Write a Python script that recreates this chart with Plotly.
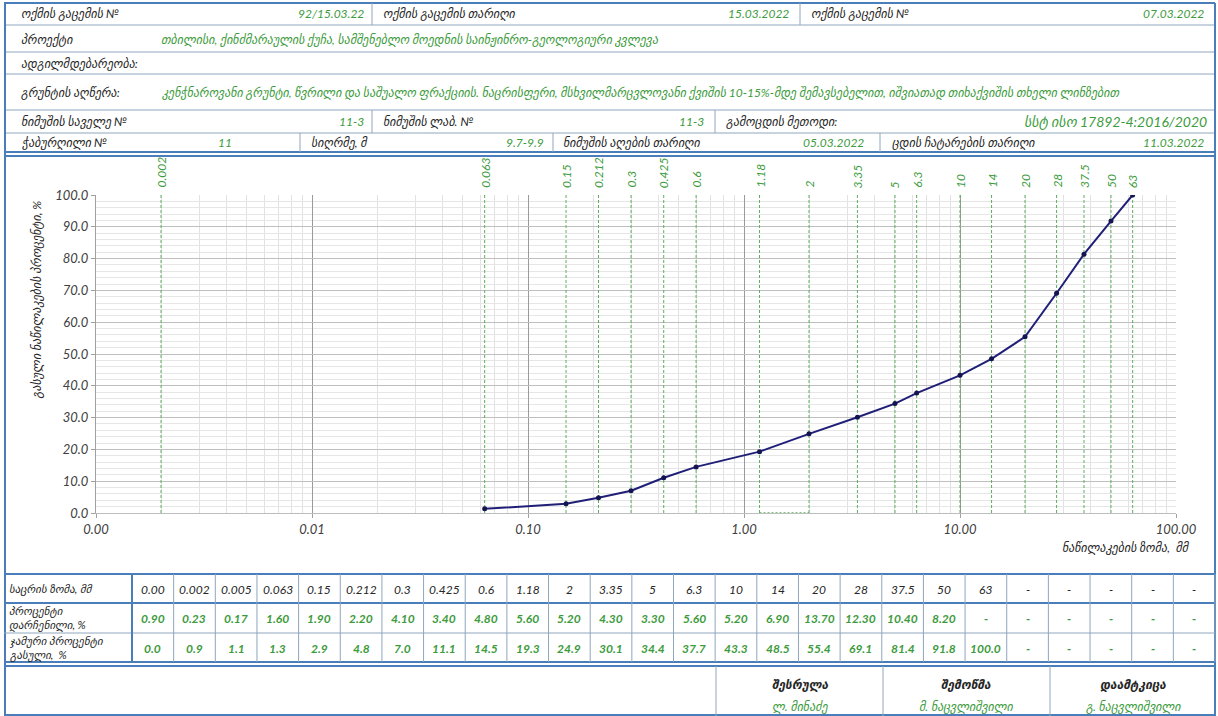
import math
import plotly.graph_objects as go

W, H = 1218, 716

# ---- data ----
sieve_labels = ["0.00", "0.002", "0.005", "0.063", "0.15", "0.212", "0.3", "0.425", "0.6", "1.18",
                "2", "3.35", "5", "6.3", "10", "14", "20", "28", "37.5", "50", "63"]
retained_pct = [0.90, 0.23, 0.17, 1.60, 1.90, 2.20, 4.10, 3.40, 4.80, 5.60,
                5.20, 4.30, 3.30, 5.60, 5.20, 6.90, 13.70, 12.30, 10.40, 8.20]
passing_pct = [0.0, 0.9, 1.1, 1.3, 2.9, 4.8, 7.0, 11.1, 14.5, 19.3,
               24.9, 30.1, 34.4, 37.7, 43.3, 48.5, 55.4, 69.1, 81.4, 91.8, 100.0]
guide_labels = ["0.002", "0.063", "0.15", "0.212", "0.3", "0.425", "0.6", "1.18", "2", "3.35",
                "5", "6.3", "10", "14", "20", "28", "37.5", "50", "63"]
n_cols = 26

sizes = [float(s) for s in sieve_labels]
curve_x = sizes[3:]
curve_y = passing_pct[3:]
guides = [float(s) for s in guide_labels]

GREEN = "#3C9B3C"
BLUE = "#4A7EBB"
CELL = "#8FA6BD"
TXT = "#262626"
FONT = "Lato, 'DejaVu Sans', sans-serif"


def X(px):
    return px / W


def Y(py):
    return 1 - py / H


shapes = []
annots = []


def hline(y, x0=4, x1=1215, color=CELL, width=1):
    shapes.append(dict(type="line", xref="paper", yref="paper", x0=X(x0), x1=X(x1),
                       y0=Y(y), y1=Y(y), line=dict(color=color, width=width)))


def vline(x, y0, y1, color=CELL, width=1):
    shapes.append(dict(type="line", xref="paper", yref="paper", x0=X(x), x1=X(x),
                       y0=Y(y0), y1=Y(y1), line=dict(color=color, width=width)))


def text(s, x, y, anchor="left", color=TXT, size=12, weight="normal"):
    annots.append(dict(text=s, x=X(x), y=Y(y), xref="paper", yref="paper", showarrow=False,
                       xanchor=anchor, yanchor="middle", align="left", borderpad=0,
                       font=dict(family=FONT, size=size, color=color, style="italic", weight=weight)))


# ---- header ----
for y in [25, 52, 74, 110, 133]:
    hline(y)
hline(3, color=BLUE, width=2)
hline(152, color=BLUE, width=2)
hline(156, color=BLUE, width=2)
vline(5, 3, 716, color=BLUE, width=2)
vline(1215, 3, 716, color=BLUE, width=2)
for x in [372, 800]:
    vline(x, 3, 25)
for x in [372, 715]:
    vline(x, 110, 133)
for x in [300, 553, 880]:
    vline(x, 133, 152)

text("ოქმის გაცემის №", 20, 14)
text("92/15.03.22", 365, 14, "right", GREEN)
text("ოქმის გაცემის თარიღი", 382, 14)
text("15.03.2022", 790, 14, "right", GREEN)
text("ოქმის გაცემის №", 810, 14)
text("07.03.2022", 1205, 14, "right", GREEN)
text("პროექტი", 20, 39)
text("თბილისი, ქინძმარაულის ქუჩა, სამშენებლო მოედნის საინჟინრო-გეოლოგიური კვლევა", 160, 39, color=GREEN)
text("ადგილმდებარეობა:", 20, 63)
text("გრუნტის აღწერა:", 20, 92)
text("კენჭნაროვანი გრუნტი, წვრილი და საშუალო ფრაქციის. ნაცრისფერი, მსხვილმარცვლოვანი ქვიშის "
     "10-15%-მდე შემავსებელით, იშვიათად თიხაქვიშის თხელი ლინზებით", 160, 92, color=GREEN)
text("ნიმუშის საველე №", 20, 122)
text("11-3", 365, 122, "right", GREEN)
text("ნიმუშის ლაბ. №", 382, 122)
text("11-3", 705, 122, "right", GREEN)
text("გამოცდის მეთოდი:", 725, 122)
text("სსტ ისო 17892-4:2016/2020", 1208, 122, "right", GREEN, size=14)
text("ჭაბურღილი №", 20, 142)
text("11", 225, 142, "center", GREEN)
text("სიღრმე, მ", 310, 142)
text("9.7-9.9", 545, 142, "right", GREEN)
text("ნიმუშის აღების თარიღი", 562, 142)
text("05.03.2022", 865, 142, "right", GREEN)
text("ცდის ჩატარების თარიღი", 890, 142)
text("11.03.2022", 1205, 142, "right", GREEN)

# ---- bottom table ----
c0, cw = 132, (1215 - 132) / n_cols
hline(574, color=BLUE, width=2)
hline(603, color=BLUE, width=2)
hline(633)
hline(662, color=BLUE, width=2)
hline(666, color=BLUE, width=2)
hline(715, color=BLUE, width=2)
for i in range(n_cols + 1):
    vline(c0 + i * cw, 574, 662, color=CELL if i else BLUE, width=1 if i else 2)

text("საცრის ზომა, მმ", 8, 589, size=11)
text("პროცენტი<br>დარჩენილი, %", 8, 618, size=11)
text("ჯამური პროცენტი<br>გასული,  %", 8, 648, size=11)
row1 = sieve_labels + ["-"] * (n_cols - len(sieve_labels))
row2 = ["%.2f" % v for v in retained_pct] + ["-"] * (n_cols - len(retained_pct))
row3 = ["%.1f" % v for v in passing_pct] + ["-"] * (n_cols - len(passing_pct))
for i in range(n_cols):
    cx = c0 + (i + 0.5) * cw
    text(row1[i], cx, 589, "center", TXT, 12)
    text(row2[i], cx, 618, "center", GREEN, 12, "bold")
    text(row3[i], cx, 648, "center", GREEN, 12, "bold")

for x in [716, 883, 1050]:
    vline(x, 666, 716)
for name, who, cx in [("შესრულა", "ლ. მინაძე", 800), ("შემოწმა", "მ. ნაცვლიშვილი", 966),
                      ("დაამტკიცა", "გ. ნაცვლიშვილი", 1133)]:
    text(name, cx, 684, "center", TXT, 12, "bold")
    text(who, cx, 706, "center", GREEN, 12)

# ---- chart ----
PL, PR, PT, PB = 96, 1176, 195, 513

gx, gy = [], []
for g in guides:
    gx += [g, g, None]
    gy += [0, 100, None]

fig = go.Figure()
fig.add_trace(go.Scatter(x=gx, y=gy, mode="lines", hoverinfo="skip",
                         line=dict(color="#5DAE5D", width=1, dash="3px,2px")))
fig.add_trace(go.Scatter(x=[guides[7], guides[8]], y=[0, 0], mode="lines", hoverinfo="skip",
                         line=dict(color="#5DAE5D", width=1.5, dash="2px,2px")))
fig.add_trace(go.Scatter(x=curve_x, y=curve_y, mode="lines+markers",
                         line=dict(color="#1F1F78", width=2),
                         marker=dict(color="#141450", size=5)))

for g, lab in zip(guides, guide_labels):
    annots.append(dict(text=lab, x=math.log10(g), y=Y(190), xref="x", yref="paper",
                       showarrow=False, textangle=-90, xanchor="center", yanchor="bottom",
                       font=dict(family=FONT, size=12, color=GREEN, style="italic")))

annots.append(dict(text="გასული ნაწილაკების პროცენტი, %", x=X(27), y=Y(300), xref="paper",
                   yref="paper", showarrow=False, textangle=-90,
                   font=dict(family=FONT, size=12, color=TXT, style="italic")))
annots.append(dict(text="ნაწილაკების ზომა,  მმ", x=X(1192), y=Y(557), xref="paper", yref="paper",
                   showarrow=False, xanchor="right",
                   font=dict(family=FONT, size=12, color=TXT, style="italic")))

fig.update_layout(
    width=W, height=H, margin=dict(l=0, r=0, t=0, b=0, pad=0, autoexpand=False),
    paper_bgcolor="white", plot_bgcolor="white", showlegend=False,
    shapes=shapes, annotations=annots,
    xaxis=dict(type="log", range=[-3, 2], domain=[X(PL), X(PR)], dtick=1, automargin=False,
               tickformat=".2f", showgrid=True, gridcolor="#9A9A9A", gridwidth=1,
               minor=dict(dtick="D1", showgrid=True, gridcolor="#E2E2E2"),
               ticks="outside", ticklen=4, tickcolor="#A0A0A0",
               showline=True, linecolor="#BDBDBD", zeroline=False,
               tickfont=dict(family=FONT, size=13, color="#404040", style="italic")),
    yaxis=dict(range=[0, 100], domain=[Y(PB), Y(PT)], dtick=10, tickformat=".1f", automargin=False,
               showgrid=True, gridcolor="#BFBFBF", gridwidth=1,
               minor=dict(dtick=2, showgrid=True, gridcolor="#E6E6E6"),
               ticks="outside", ticklen=4, tickcolor="#A0A0A0",
               showline=True, linecolor="#A0A0A0", zeroline=False,
               tickfont=dict(family=FONT, size=13, color="#404040", style="italic")),
)

# the page's default body margin would shift the whole sheet by 8px
fig.write_html("out.html", config={"displayModeBar": False},
               post_script="document.body.style.margin='0';")
